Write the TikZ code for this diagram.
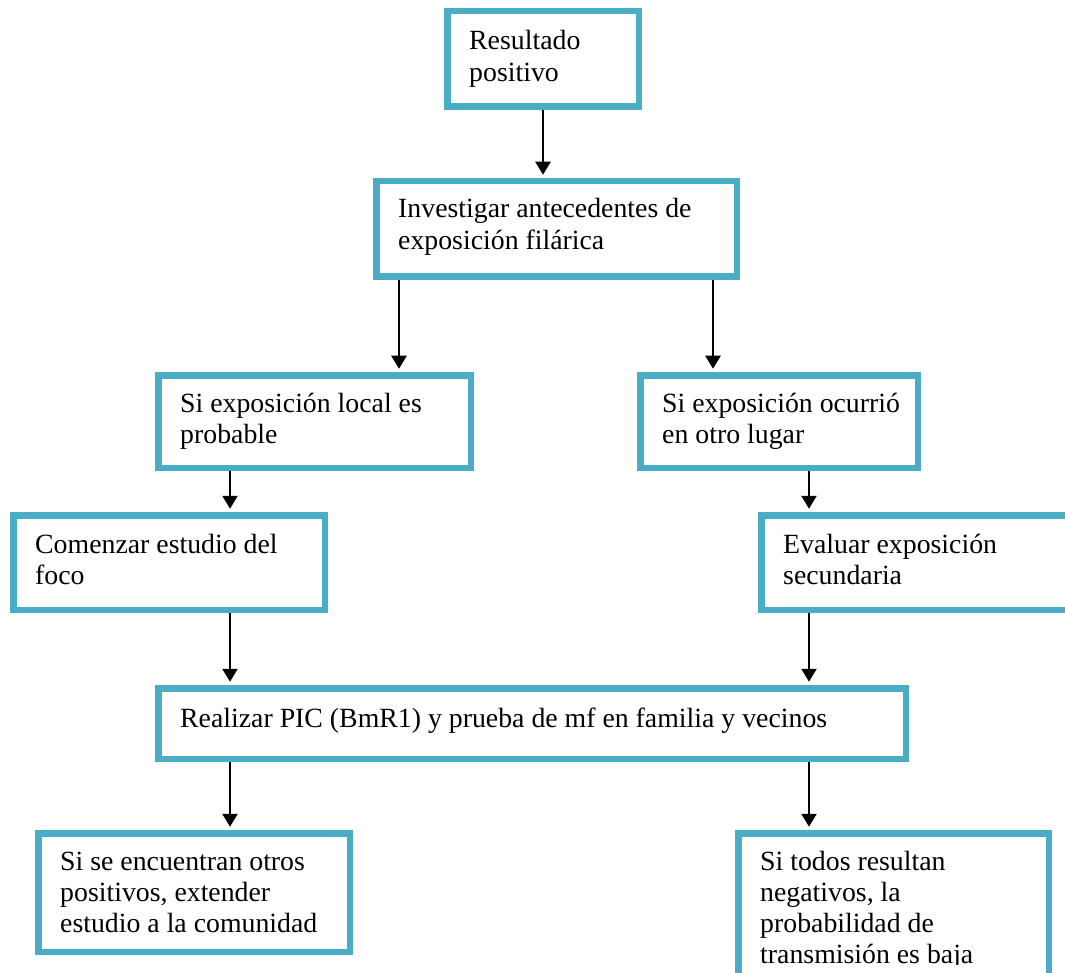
\documentclass[tikz,border=0pt]{standalone}
\usepackage{fontspec}
\setmainfont{Liberation Serif}
\usetikzlibrary{arrows.meta}
\definecolor{boxblue}{HTML}{4BACC6}
\begin{document}
\begin{tikzpicture}[x=1pt,y=-1pt,
  box/.style={draw=boxblue, line width=6.5pt, fill=white, rectangle, inner sep=0pt},
  lbl/.style={anchor=base west, inner sep=0pt, align=left, font=\fontsize{27.8}{31.3}\selectfont},
  arr/.style={draw=black, line width=2.4pt, -{Triangle[width=15pt,length=13pt]}, shorten >=3.25pt}]
\useasboundingbox (0,0) rectangle (1065,973);
\clip (0,0) rectangle (1065,973);
\fill[white] (0,0) rectangle (1065,973);
% boxes
\node[box, minimum width=191.5pt, minimum height=95.5pt] (b1) at (543,59) {};
\node[box, minimum width=360.5pt, minimum height=95.5pt] (b2) at (556.5,229) {};
\node[box, minimum width=312.5pt, minimum height=92.5pt] (b3) at (314.5,421.5) {};
\node[box, minimum width=277.5pt, minimum height=92.5pt] (b4) at (779,421.5) {};
\node[box, minimum width=311.5pt, minimum height=94.5pt] (b5) at (169,562.5) {};
\node[box, minimum width=320.5pt, minimum height=94.5pt] (b6) at (921.5,562.5) {};
\node[box, minimum width=747.5pt, minimum height=70.5pt] (b7) at (532,723.5) {};
\node[box, minimum width=311.5pt, minimum height=118.5pt] (b8) at (194,892.5) {};
\node[box, minimum width=310.5pt, minimum height=173.5pt] (b9) at (893.5,920) {};
% texts
\node[lbl] (t1) at (469,50) {\parbox[t]{400pt}{\raggedright Resultado\\positivo}};
\node[lbl] (t2) at (398,218) {\parbox[t]{400pt}{\raggedright Investigar antecedentes de\\exposición filárica}};
\node[lbl] (t3) at (180,412) {\parbox[t]{400pt}{\raggedright Si exposición local es\\probable}};
\node[lbl] (t4) at (662,412) {\parbox[t]{400pt}{\raggedright Si exposición ocurrió\\en otro lugar}};
\node[lbl] (t5) at (35,553) {\parbox[t]{400pt}{\raggedright Comenzar estudio del\\foco}};
\node[lbl] (t6) at (783,553) {\parbox[t]{400pt}{\raggedright Evaluar exposición\\secundaria}};
\node[lbl] (t7) at (180,727) {\parbox[t]{800pt}{\raggedright Realizar PIC (BmR1) y prueba de mf en familia y vecinos}};
\node[lbl] (t8) at (60,870) {\parbox[t]{400pt}{\raggedright Si se encuentran otros\\positivos, extender\\estudio a la comunidad}};
\begin{scope}
\clip (738,833) rectangle (1049,964);
\node[lbl] (t9) at (760,870) {\parbox[t]{400pt}{\raggedright Si todos resultan\\negativos, la\\probabilidad de\\transmisión es baja}};
\end{scope}
% connector columns
\coordinate (xm) at (543,0);
\coordinate (xa) at (399,0);
\coordinate (xb) at (713,0);
\coordinate (xl) at (230,0);
\coordinate (xr) at (809,0);
% connectors
\draw[arr] (b1.south -| xm) -- (b2.north -| xm);
\draw[arr] (b2.south -| xa) -- (b3.north -| xa);
\draw[arr] (b2.south -| xb) -- (b4.north -| xb);
\draw[arr] (b3.south -| xl) -- (b5.north -| xl);
\draw[arr] (b4.south -| xr) -- (b6.north -| xr);
\draw[arr] (b5.south -| xl) -- (b7.north -| xl);
\draw[arr] (b6.south -| xr) -- (b7.north -| xr);
\draw[arr] (b7.south -| xl) -- (b8.north -| xl);
\draw[arr] (b7.south -| xr) -- (b9.north -| xr);
\end{tikzpicture}
\end{document}
